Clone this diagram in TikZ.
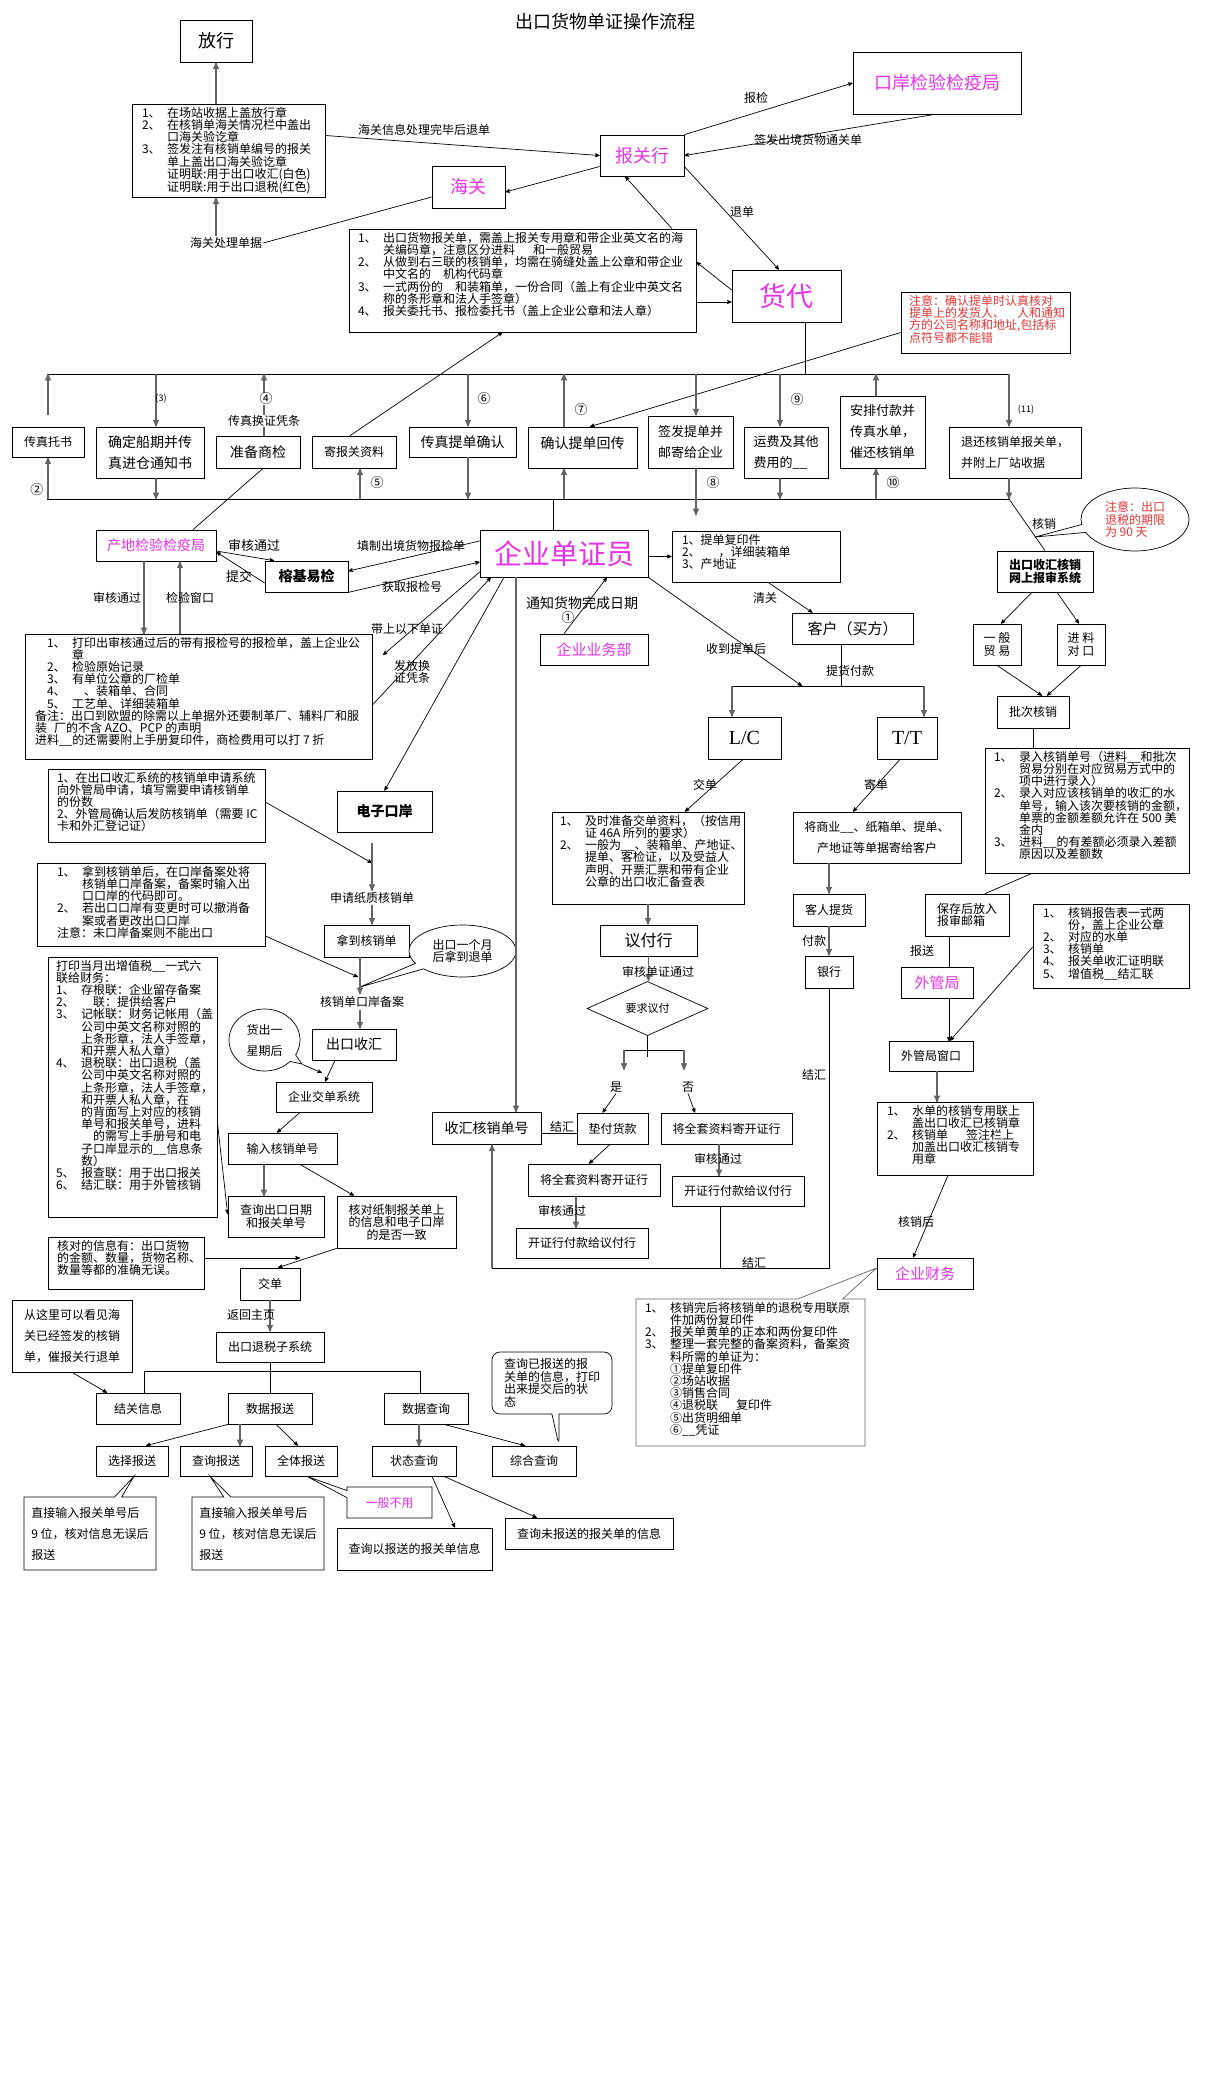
\documentclass[tikz,border=0pt]{standalone}
\usepackage{fontspec}
\setmainfont{Noto Sans CJK SC}
\newfontfamily\serifrm{Liberation Serif}
\usetikzlibrary{arrows, positioning, shapes.geometric, shapes.callouts}

\definecolor{rosa}{RGB}{232,50,232}
\definecolor{rotschrift}{RGB}{230,52,52}
\definecolor{grau}{RGB}{100,100,100}

\newcommand{\nr}[1]{\makebox[2.1em][l]{#1}}
\newcommand{\ein}{\hspace*{2.1em}}
\newcommand{\tbox}[4]{\parbox[c][#2][t]{#1}{\raggedright\leftskip=#3\relax\vspace*{3pt}#4}}

\begin{document}
\begin{tikzpicture}[x=1pt,y=-1pt,>=stealth',line width=0.7pt,
	kasten/.style={draw,inner sep=0pt,align=center,font=\fontsize{12}{12.5}\selectfont},
	liste/.style={draw,inner sep=0pt,font=\fontsize{12}{12.2}\selectfont},
	wh/.style 2 args={minimum width=#1pt,minimum height=#2pt},
	gross/.style={font=\fontsize{#1}{#1}\selectfont},
	zwei/.style={font=\fontsize{#1}{21}\selectfont},
	rosatext/.style={text=rosa},
	marke/.style={inner sep=1pt,align=center,font=\fontsize{12}{12.5}\selectfont},
	kreis/.style={inner sep=0pt,font=\fontsize{13}{13}\selectfont},
	gp/.style={draw=grau,line width=1.4pt},
	blase/.style={draw,fill=white,inner sep=0pt,align=left,font=\fontsize{12}{12.5}\selectfont}]

\fill[white] (0,0) rectangle (1209,2079);
\useasboundingbox (0,0) rectangle (1209,2079);

%Knoten oben
\node (titel) [gross=18] at (605,22) {出口货物单证操作流程};
\node (fangxing) [kasten,wh={72}{42},gross=18] at (216,41) {放行};
\node (hgbox) [liste] at (228.5,150.5) {\tbox{193pt}{93pt}{10pt}{%
\nr{1、}在场站收据上盖放行章\\
\nr{2、}在核销单海关情况栏中盖出\\
\ein 口海关验讫章\\
\nr{3、}签发注有核销单编号的报关\\
\ein 单上盖出口海关验讫章\\
\ein 证明联:用于出口收汇(白色)\\
\ein 证明联:用于出口退税(红色)}};
\node (hgchuli) [marke] at (226,243) {海关处理单据};
\node (haiguan) [kasten,wh={73}{42},gross=18,rosatext] at (468.5,187) {海关};
\node (bgh) [kasten,wh={84}{41},gross=18,rosatext] at (642,155.5) {报关行};
\node (kajj) [kasten,wh={168}{62},gross=18,rosatext] at (937,83) {口岸检验检疫局};
\node (bgd) [liste] at (522.5,280.5) {\tbox{347pt}{103pt}{9pt}{%
\nr{1、}出口货物报关单，需盖上报关专用章和带企业英文名的海\\
\ein 关编码章，注意区分进料\hspace{1.5em}和一般贸易\\
\nr{2、}从做到右三联的核销单，均需在骑缝处盖上公章和带企业\\
\ein 中文名的\hspace{1em}机构代码章\\
\nr{3、}一式两份的\hspace{1em}和装箱单，一份合同（盖上有企业中英文名\\
\ein 称的条形章和法人手签章）\\
\nr{4、}报关委托书、报检委托书（盖上企业公章和法人章）}};
\node (huodai) [kasten,wh={109}{52},gross=27,rosatext] at (786.5,296) {货代};
\node (zhuyi) [liste,text=rotschrift,font=\fontsize{12}{12}\selectfont] at (985.5,322.5) {\tbox{169pt}{61pt}{8pt}{%
注意：确认提单时认真核对\\
提单上的发货人、\hspace{1em}人和通知\\
方的公司名称和地址,包括标\\
点符号都不能错}};

\node (lthwb) [marke] at (424,130) {海关信息处理完毕后退单};
\node (lbj) [marke] at (756,98) {报检};
\node (lqf) [marke] at (808,140) {签发出境货物通关单};
\node (ltd) [marke] at (742,212) {退单};

%Kanten oben
\path[->]
	(hgbox.north -| fangxing) edge[gp] (fangxing.south)
	(hgchuli.north -| fangxing) edge[gp] (hgbox.south -| fangxing)
	(hgchuli.east) edge[-] ([yshift=-10pt]haiguan.west)
	([yshift=15pt]hgbox.east) edge (bgh.west)
	([yshift=-11pt]bgh.west) edge ([yshift=-5pt]haiguan.east)
	(bgh.north east) edge (kajj.west)
	([xshift=-2pt]kajj.south) edge (bgh.east)
	([yshift=-11pt]bgh.east) edge ([xshift=-7.5pt]huodai.north)
	([xshift=149.5pt]bgd.north) edge ([xshift=-17pt]bgh.south)
	([yshift=6pt]huodai.west) edge ([yshift=18.5pt]bgd.east)
	([yshift=-21.5pt]bgd.east) edge ([yshift=-6pt]huodai.west);

%Leiste
\coordinate (ob1) at (47,374);
\coordinate (ob2) at (1009,374);
\coordinate (ub1) at (47,499);
\coordinate (ub2) at (1009,499);

\node (tuoshu) [kasten,wh={72}{30}] at (48,442) {传真托书};
\node (chuanqi) [kasten,wh={108}{51},zwei=14] at (150,452.5) {确定船期并传\\真进仓通知书};
\node (shangjian) [kasten,wh={84}{32},gross=14] at (258,452) {准备商检};
\node (jibg) [kasten,wh={84}{32}] at (354,452) {寄报关资料};
\node (tdqr) [kasten,wh={107}{30},gross=14] at (462.5,442) {传真提单确认};
\node (tdht) [kasten,wh={109}{41},gross=14,text depth=10pt] at (582.5,447.5) {确认提单回传};
\node (qianfa) [kasten,wh={85}{52},zwei=13] at (690.5,442) {签发提单并\\邮寄给企业};
\node (yunfei) [kasten,wh={84}{51},zwei=13,align=left] at (786,452.5) {运费及其他\\费用的\_\_};
\node (anpai) [kasten,wh={85}{72},zwei=13,align=left] at (882.5,432) {安排付款并\\传真水单，\\催还核销单};
\node (tuihuan) [kasten,wh={132}{51},zwei=12,align=left] at (1015,452.5) {退还核销单报关单，\\并附上厂站收据};
\node (chandi) [kasten,wh={120}{31},gross=14,rosatext] at (156,545.5) {产地检验检疫局};

\draw (ob1) -- (ob2);
\draw (ub1) -- (ub2);
\draw ([xshift=18.5pt]huodai.south) -- ++(0,52);
\draw[gp,->] ([yshift=12pt]tuoshu.north) -- ++(0,-41);
\draw[gp,->] (tuoshu.south) ++(0,42) -- ++(0,-42);
\draw[gp,->] ([xshift=6pt]chuanqi.north) ++(0,-53) -- ++(0,53);
\draw[gp,->] ([xshift=6pt]chuanqi.south) -- ++(0,21);
\draw[gp,->] ([xshift=6pt]shangjian.north) -- ++(0,-62);
\draw ([xshift=5pt]shangjian.south) -- ([xshift=37pt]chandi.north);
\draw[gp,->] ([xshift=6pt]jibg.south) ++(0,31) -- ++(0,-31);
\draw[->] ([xshift=-4pt]jibg.north) -- ([xshift=-20pt]bgd.south);
\draw[gp,->] ([xshift=5.5pt]tdqr.north) ++(0,-53) -- ++(0,53);
\draw[gp,->] ([xshift=5.5pt]tdqr.south) -- ++(0,42);
\draw[gp,->] ([xshift=-18.5pt]tdht.north) -- ++(0,-53);
\draw[gp,->] ([xshift=-18.5pt]tdht.south) ++(0,31) -- ++(0,-31);
\draw[->] ([yshift=-10pt]zhuyi.west) -- ([xshift=7.5pt]tdht.north);
\draw[gp,->] ([xshift=5.5pt]qianfa.north) ++(0,-42) -- ++(0,42);
\draw[gp,->] ([xshift=5.5pt]qianfa.south) -- ++(0,47);
\draw[gp,->] ([xshift=-6pt]yunfei.north) ++(0,-53) -- ++(0,53);
\draw[gp,->] ([xshift=-6pt]yunfei.south) -- ++(0,21);
\draw[gp,->] ([xshift=-6.5pt]anpai.north) -- ++(0,-22);
\draw[gp,->] ([xshift=-6.5pt]anpai.south) ++(0,31) -- ++(0,-31);
\draw[gp,->] ([xshift=-6pt]tuihuan.north) ++(0,-53) -- ++(0,53);
\draw[gp,->] ([xshift=-6pt]tuihuan.south) -- ++(0,21);

\node (n2) [kreis] at (37,490) {②};
\node (n3) [kreis,font=\fontsize{9}{9}\selectfont] at (161,399) {(3)};
\node (n4) [kreis,fill=white] at (266,399) {④};
\node (hzpt) [marke,fill=white,inner sep=0pt] at (264,421) {传真换证凭条};
\node (n5) [kreis] at (377,483) {⑤};
\node (n6) [kreis] at (484,399) {⑥};
\node (n7) [kreis] at (581,410) {⑦};
\node (n8) [kreis] at (713,483) {⑧};
\node (n9) [kreis] at (797,400) {⑨};
\node (n10) [kreis] at (893,483) {⑩};
\node (n11) [kreis,font=\fontsize{9}{9}\selectfont] at (1026,410) {(11)};

%Mitte
\node (qydzy) [kasten,wh={168}{47},gross=28,rosatext] at (564,553.5) {企业单证员};
\node (tdfy) [liste] at (756,556.5) {\tbox{168pt}{51pt}{10pt}{%
1、提单复印件\\
2、\hspace{1.5em}，详细装箱单\\
3、产地证}};
\node (kehu) [kasten,wh={121}{31},gross=15] at (852.5,628.5) {客户（买方）};
\node (ywb) [kasten,wh={108}{31},gross=15,rosatext] at (594,649.5) {企业业务部};
\node (lc) [kasten,wh={73}{42},font=\serifrm\fontsize{20}{20}\selectfont] at (744.5,738) {L/C};
\node (tt) [kasten,wh={60}{42},font=\serifrm\fontsize{20}{20}\selectfont] at (907,738) {T/T};
\coordinate (lt1) at (732,686);
\coordinate (lt2) at (924,686);
\coordinate (lt3) at (802,686);

\draw ([xshift=-11pt]qydzy.north) -- ++(0,-31);
\draw[->] (qydzy.east |- tdfy.west) -- (tdfy.west);
\draw[->] ([xshift=12pt]tdfy.south) -- ([xshift=-40pt]kehu.north);
\draw[->] ([xshift=-30pt]ywb.north) -- ([xshift=43pt]qydzy.south);
\draw[->] (qydzy.south east) -- (lt3);
\draw ([xshift=-11.5pt]kehu.south) -- ++(0,42);
\draw (lt1) -- (lt2);
\draw[gp,->] (lt1) -- (lt1 |- lc.north);
\draw[gp,->] (lt2) -- (lt2 |- tt.north);

\node (lqg) [marke] at (765,598) {清关};
\node (ltzhw) [marke,gross=14] at (582,603) {通知货物完成日期};
\node (n1) [kreis] at (568,618) {①};
\node (lsdtd) [marke] at (736,649) {收到提单后};
\node (lthfk) [marke] at (850,671) {提货付款};

%Links Mitte
\node (rongji) [kasten,wh={83}{31},font=\bfseries\fontsize{14}{14}\selectfont] at (306.5,576.5) {榕基易检};
\node (bigbox) [liste] at (198.5,696.5) {\tbox{347pt}{125pt}{10pt}{%
\hspace*{1em}\nr{1、}打印出审核通过后的带有报检号的报检单，盖上企业公\\
\hspace*{1em}\ein 章\\
\hspace*{1em}\nr{2、}检验原始记录\\
\hspace*{1em}\nr{3、}有单位公章的厂检单\\
\hspace*{1em}\nr{4、}\hspace{1em}、装箱单、合同\\
\hspace*{1em}\nr{5、}工艺单、详细装箱单\\
备注：出口到欧盟的除需以上单据外还要制革厂、辅料厂和服\\
装\hspace{0.6em}厂的不含 AZO、PCP 的声明\\
进料\_\_的还需要附上手册复印件，商检费用可以打 7 折}};

\draw[->] ([yshift=-5.5pt]chandi.east) -- ([xshift=-32.5pt]rongji.north);
\draw[->] ([yshift=-6.5pt]rongji.west) -- ([yshift=-6.5pt]chandi.east);
\draw[->] ([yshift=12.5pt]qydzy.west) -- ([yshift=5.5pt]rongji.east);
\draw[->] (rongji.south east) -- ([yshift=-8.5pt]qydzy.west);
\draw[gp,->] ([xshift=-12pt]chandi.south) -- ++(0,73);
\draw[gp,->] ([xshift=24pt]chandi.south) ++(0,73) -- ++(0,-73);

\node (lsh1) [marke,gross=13] at (254,546) {审核通过};
\node (ltj) [marke,gross=13] at (239,577) {提交};
\node (ltz) [marke] at (411,546) {填制出境货物报检单};
\node (lhq) [marke] at (412,587) {获取报检号};
\node (lsh2) [marke] at (117,598) {审核通过};
\node (ljy) [marke] at (190,598) {检验窗口};
\node (ldsy) [marke] at (407,629) {带上以下单证};
\node (lff) [marke,font=\fontsize{12}{12}\selectfont] at (412,672) {发放换\\证凭条};

%Links unten
\node (dzka) [kasten,wh={95}{41},font=\bfseries\fontsize{14}{14}\selectfont] at (384.5,811.5) {电子口岸};
\coordinate (dz1) at (383,655);
\draw[->] ([yshift=-18.5pt]qydzy.west) -- (dz1);
\draw[->] ([yshift=-8.5pt]bigbox.east) -- ([xshift=-73pt]qydzy.south);
\draw[->] ([xshift=-60pt]qydzy.south) -- (dzka.north);

\node (sqbox) [liste] at (156.5,805.5) {\tbox{217pt}{73pt}{9pt}{%
1、在出口收汇系统的核销单申请系统\\
向外管局申请，填写需要申请核销单\\
的份数\\
2、外管局确认后发防核销单（需要 IC\\
卡和外汇登记证）}};
\node (sqzz) [marke] at (372,898) {申请纸质核销单};
\node (ndhx) [kasten,wh={85}{32}] at (366.5,941) {拿到核销单};
\node (box2) [liste] at (151,904.5) {\tbox{228pt}{83pt}{20pt}{%
\nr{1、}拿到核销单后，在口岸备案处将\\
\ein 核销单口岸备案，备案时输入出\\
\ein 口口岸的代码即可。\\
\nr{2、}若出口口岸有变更时可以撤消备\\
\ein 案或者更改出口口岸\\
注意：未口岸备案则不能出口}};
\node (hxba) [marke] at (362,1002) {核销单口岸备案};
\node (chsh) [kasten,wh={84}{31},gross=14] at (354,1044.5) {出口收汇};
\node (jdxt) [kasten,wh={96}{30}] at (324,1097) {企业交单系统};
\node (srhx) [kasten,wh={109}{31}] at (282.5,1148.5) {输入核销单号};
\node (box3) [liste] at (132.5,1087) {\tbox{169pt}{260pt}{8pt}{%
打印当月出增值税\_\_一式六\\
联给财务：\\
\nr{1、}存根联：企业留存备案\\
\nr{2、}\hspace{1em}联：提供给客户\\
\nr{3、}记帐联：财务记帐用（盖\\
\ein 公司中英文名称对照的\\
\ein 上条形章，法人手签章，\\
\ein 和开票人私人章）\\
\nr{4、}退税联：出口退税（盖\\
\ein 公司中英文名称对照的\\
\ein 上条形章，法人手签章，\\
\ein 和开票人私人章，在\\
\ein 的背面写上对应的核销\\
\ein 单号和报关单号，进料\\
\ein\hspace*{1em}的需写上手册号和电\\
\ein 子口岸显示的\_\_信息条\\
\ein 数）\\
\nr{5、}报查联：用于出口报关\\
\nr{6、}结汇联：用于外管核销}};
\node (cxrq) [kasten,wh={96}{41}] at (276,1216.5) {查询出口日期\\和报关单号};
\node (hdzz) [kasten,wh={119}{52}] at (396.5,1222) {核对纸制报关单上\\的信息和电子口岸\\的是否一致};
\node (box4) [liste] at (126,1263) {\tbox{156pt}{52pt}{9pt}{%
核对的信息有：出口货物\\
的金额、数量，货物名称、\\
数量等都的准确无误。}};
\node (jiaodan) [kasten,wh={60}{32}] at (270,1284) {交单};
\node (tszxt) [kasten,wh={108}{30}] at (270,1347) {出口退税子系统};
\node (box5) [kasten,wh={120}{72},zwei=12,align=left] at (72,1336) {从这里可以看见海\\关已经签发的核销\\单，催报关行退单};

\node (chukou) [blase,ellipse callout,wh={107}{52},align=center,callout absolute pointer={(360,987)}] at (462.5,951) {出口一个月\\后拿到退单};
\node (hcyx) [blase,ellipse callout,wh={71}{62},zwei=12,align=center,callout absolute pointer={(302,1064)}] at (264.5,1040) {货出一\\星期后};

\coordinate (k1) at (372,863);
\coordinate (k2) at (358,977);
\coordinate (k3) at (322,1073);
\coordinate (k4) at (300,1258);
\draw[->] ([yshift=3.5pt]sqbox.east) -- (k1);
\draw[gp,->] (dzka.south -| sqzz) ++(0,11) -- (sqzz.north);
\draw[gp,->] (sqzz.south) -- (sqzz.south |- ndhx.north);
\draw[->] ([yshift=-31.5pt]box2.east) -- (k2);
\draw[gp,->] ([xshift=-6.5pt]ndhx.south) -- ++(0,37);
\draw[gp,->] ([xshift=6pt]chsh.north) ++(0,-19) -- ++(0,19);
\draw[->] (hcyx.pointer) -- (k3);
\draw[->] ([xshift=-19pt]chsh.south) -- ([xshift=1pt]jdxt.north);
\draw[->] ([xshift=-24pt]jdxt.south) -- ([xshift=-5.5pt]srhx.north);
\draw[->] ([yshift=-35pt]box3.east) -- ([yshift=2.5pt]cxrq.west);
\draw[gp,->] ([xshift=-18.5pt]srhx.south) -- ++(0,32);
\draw[->] ([xshift=17.5pt]srhx.south) -- ([xshift=-42.5pt]hdzz.north);
\draw[->] (hdzz.south west) -- ([xshift=8pt]jiaodan.north);
\draw[->] ([yshift=5pt]box4.east) -- (k4);
\draw[gp,->] (jiaodan.south) -- (tszxt.north);
\node (lfhzy) [marke] at (251,1315) {返回主页};

%Baum unten
\node (jgxx) [kasten,wh={84}{31}] at (138,1408.5) {结关信息};
\node (sjbs) [kasten,wh={84}{31}] at (270,1408.5) {数据报送};
\node (sjcx) [kasten,wh={84}{31}] at (426,1408.5) {数据查询};
\node (xzbs) [kasten,wh={72}{30}] at (132,1461) {选择报送};
\node (cxbs) [kasten,wh={72}{30}] at (216,1461) {查询报送};
\node (qtbs) [kasten,wh={72}{30}] at (301,1461) {全体报送};
\node (ztcx) [kasten,wh={84}{30}] at (414,1461) {状态查询};
\node (zhcx) [kasten,wh={84}{30}] at (534,1461) {综合查询};
\node (cxyb2) [kasten,wh={155}{42}] at (414.5,1549) {查询以报送的报关单信息};
\node (cxwb) [kasten,wh={168}{31}] at (589,1533.5) {查询未报送的报关单的信息};

\draw[->] (box5.south) -- ([xshift=-31pt]jgxx.north);
\draw (tszxt.south) -- (sjbs.north);
\draw ([xshift=6pt]jgxx.north) -- ++(0,-21) -| ([xshift=-6pt]sjcx.north);
\draw[->] ([xshift=-42pt]sjbs.south) -- ([xshift=14pt]xzbs.north);
\draw[gp,->] ([xshift=-30pt]sjbs.south) -- ++(0,22);
\draw[->] ([xshift=6pt]sjbs.south) -- ([xshift=-3pt]qtbs.north);
\draw[gp,->] ([xshift=-7pt]sjcx.south) -- ++(0,22);
\draw[->] ([xshift=18pt]sjcx.south) -- ([xshift=-9pt]zhcx.north);
\draw[->] ([xshift=18pt]ztcx.south) -- ([xshift=40.5pt]cxyb2.north);
\draw[->] ([xshift=30pt]ztcx.south) -- ([xshift=-52pt]cxwb.north);

\node (cxyb) [blase,rectangle callout,rounded corners=8pt,wh={120}{62},callout absolute pointer={([xshift=25pt]zhcx.north)}] at (552,1383) {查询已报送的报\\关单的信息，打印\\出来提交后的状\\态};
\node (zj1) [blase,rectangle callout,wh={132}{73},zwei=12,callout absolute pointer={([xshift=2pt]xzbs.south)}] at (90,1533.5) {直接输入报关单号后\\9 位，核对信息无误后\\报送};
\node (zj2) [blase,rectangle callout,wh={132}{73},zwei=12,callout absolute pointer={([xshift=-6pt]cxbs.south)}] at (258,1533.5) {直接输入报关单号后\\9 位，核对信息无误后\\报送};
\node (ybby) [blase,rectangle callout,wh={85}{31},text=rosa,align=center,callout absolute pointer={([xshift=6pt]qtbs.south)}] at (389.5,1502.5) {一般不用};

%L/C Zweig
\node (lcbox) [liste] at (648,858) {\tbox{192pt}{92pt}{8pt}{%
\nr{1、}及时准备交单资料，（按信用\\
\ein 证 46A 所列的要求）\\
\nr{2、}一般为\_\_、装箱单、产地证、\\
\ein 提单、客检证，以及受益人\\
\ein 声明、开票汇票和带有企业\\
\ein 公章的出口收汇备查表}};
\node (yfh) [kasten,wh={97}{31},gross=16] at (648.5,940.5) {议付行};
\node (yq) [draw,diamond,inner sep=0pt,wh={121}{41},font=\fontsize{11}{11}\selectfont] at (647.5,1008.5) {要求议付};
\node (shi) [marke] at (616,1087) {是};
\node (fou) [marke] at (688,1087) {否};
\node (dfhk) [kasten,wh={71}{31}] at (612.5,1128.5) {垫付货款};
\node (jqtr1) [kasten,wh={131}{31}] at (726.5,1128.5) {将全套资料寄开证行};
\node (hxdh) [kasten,wh={109}{32},gross=14] at (486.5,1128) {收汇核销单号};
\node (jqtr2) [kasten,wh={132}{32}] at (594,1180) {将全套资料寄开证行};
\node (kzh2) [kasten,wh={132}{30}] at (582,1243) {开证行付款给议付行};
\node (kzh1) [kasten,wh={132}{30}] at (738,1191) {开证行付款给议付行};
\coordinate (ga) at (624,1050);
\coordinate (gb) at (684,1050);
\coordinate (k5) at (492,1268);

\draw[->] ([xshift=-1.5pt]lc.south) -- ([xshift=37pt]lcbox.north);
\draw[gp,->] (lcbox.south) -- (lcbox.south |- yfh.north);
\draw[gp,->] (yfh.south) -- (yfh.south |- yq.north);
\draw (yq.south) -- ++(0,21);
\draw (ga) -- (gb);
\draw[gp,->] (ga) -- ++(0,20);
\draw[gp,->] (gb) -- ++(0,20);
\draw[->] (shi.south) -- ([xshift=-10pt]dfhk.north);
\draw[->] (fou.south) -- ([xshift=-31.5pt]jqtr1.north);
\draw[gp,->] ([xshift=-48pt]qydzy.south) -- ++(0,535);
\draw ([yshift=-5pt]hxdh.east) -- ([yshift=-4.5pt]dfhk.west);
\draw[->] ([xshift=-2.5pt]dfhk.south) -- ([xshift=-5pt]jqtr2.north);
\draw[gp,->] ([xshift=-18pt]jqtr2.south) -- ++(0,32);
\draw[gp,->] ([xshift=-7.5pt]jqtr1.south) -- ++(0,32);
\draw ([xshift=-18pt]kzh1.south) -- ++(0,62);

\node (ljd) [marke] at (705,785) {交单};
\node (lshdz) [marke] at (658,972) {审核单证通过};
\node (ljh2) [marke] at (562,1127) {结汇};
\node (lsh3) [marke] at (562,1211) {审核通过};
\node (lsh4) [marke] at (718,1159) {审核通过};
\node (ljh3) [marke] at (754,1263) {结汇};

%T/T Zweig
\node (jsy) [kasten,wh={168}{51},zwei=12] at (877,837.5) {将商业\_\_、纸箱单、提单、\\产地证等单据寄给客户};
\node (krth) [kasten,wh={72}{32}] at (829,910) {客人提货};
\node (yh) [kasten,wh={48}{32}] at (829,972) {银行};
\draw[->] ([xshift=-7pt]tt.south) -- ([xshift=-24pt]jsy.north);
\draw[gp,->] (jsy.south -| krth) -- (krth.north);
\draw[gp,->] (krth.south) -- (yh.north);
\draw (yh.south) |- (k5);
\draw[gp,->] (k5) -- ([xshift=5.5pt]hxdh.south);
\node (ljdan) [marke] at (876,785) {寄单};
\node (lfk) [marke] at (814,941) {付款};
\node (ljh1) [marke] at (814,1075) {结汇};

%Rechts
\node (wsb) [kasten,wh={96}{41},font=\bfseries\fontsize{12}{12.5}\selectfont] at (1045,571.5) {出口收汇核销\\网上报审系统};
\node (zhuyi2) [blase,ellipse callout,wh={108}{63},text=rotschrift,callout absolute pointer={(1035,537)}] at (1135,519.5) {注意：出口\\退税的期限\\为 90 天};
\node (ybmy) [kasten,wh={48}{41}] at (997,644.5) {一 般\\贸 易};
\node (jldk) [kasten,wh={48}{41}] at (1081,644.5) {进 料\\对 口};
\node (pchx) [kasten,wh={72}{32}] at (1033,712) {批次核销};
\node (lrbox) [liste] at (1087,810.5) {\tbox{204pt}{125pt}{9pt}{%
\nr{1、}录入核销单号（进料\_\_和批次\\
\ein 贸易分别在对应贸易方式中的\\
\ein 项中进行录入）\\
\nr{2、}录入对应该核销单的收汇的水\\
\ein 单号，输入该次要核销的金额，\\
\ein 单票的金额差额允许在 500 美\\
\ein 金内\\
\nr{3、}进料\_\_的有差额必须录入差额\\
\ein 原因以及差额数}};
\node (bcfr) [kasten,wh={84}{42},align=left] at (967,915) {保存后放入\\报审邮箱};
\node (wgj) [kasten,wh={72}{31},gross=15,rosatext] at (937,982.5) {外管局};
\node (hxbg) [liste] at (1111,946) {\tbox{156pt}{84pt}{10pt}{%
\nr{1、}核销报告表一式两\\
\ein 份，盖上企业公章\\
\nr{2、}对应的水单\\
\nr{3、}核销单\\
\nr{4、}报关单收汇证明联\\
\nr{5、}增值税\_\_结汇联}};
\node (wgck) [kasten,wh={84}{30}] at (931,1056) {外管局窗口};
\node (sdbox) [liste] at (955,1138.5) {\tbox{156pt}{73pt}{10pt}{%
\nr{1、}水单的核销专用联上\\
\ein 盖出口收汇已核销章\\
\nr{2、}核销单\hspace{1.5em}签注栏上\\
\ein 加盖出口收汇核销专\\
\ein 用章}};
\node (qycw) [kasten,wh={96}{31},gross=15,rosatext] at (925,1273.5) {企业财务};
\node (cwbox) [liste,draw=grau,fill=white,rectangle callout,callout pointer width=45pt,callout absolute pointer={([yshift=5.5pt]qycw.west)}] at (750.5,1372.5) {\tbox{229pt}{147pt}{9pt}{%
\nr{1、}核销完后将核销单的退税专用联原\\
\ein 件加两份复印件\\
\nr{2、}报关单黄单的正本和两份复印件\\
\nr{3、}整理一套完整的备案资料，备案资\\
\ein 料所需的单证为：\\
\ein ①提单复印件\\
\ein ②场站收据\\
\ein ③销售合同\\
\ein ④退税联\hspace{1.5em}复印件\\
\ein ⑤出货明细单\\
\ein ⑥\_\_凭证}};

\draw (ub2) -- (wsb.north);
\draw[->] ([xshift=-13pt]wsb.south) -- ([xshift=4pt]ybmy.north);
\draw[->] ([xshift=12pt]wsb.south) -- ([xshift=-2pt]jldk.north);
\draw[->] (ybmy.south) -- ([xshift=9pt]pchx.north);
\draw[->] (jldk.south) -- ([xshift=14pt]pchx.north);
\draw (pchx.south) -- (pchx.south |- lrbox.north);
\draw ([xshift=-55pt]lrbox.south) -- ([xshift=18pt]bcfr.north);
\draw ([xshift=-18pt]bcfr.south) -- ++(0,31);
\draw[->] ([xshift=12pt]wgj.south) -- ++(0,43);
\draw[->] ([yshift=-1pt]hxbg.west) -- ([xshift=19pt]wgck.north);
\draw[gp,->] ([xshift=6pt]wgck.south) -- ++(0,31);
\draw[->] ([xshift=-7pt]sdbox.south) -- ([xshift=-12pt]qycw.north);

\node (lhx) [marke] at (1044,524) {核销};
\node (lbs) [marke] at (922,951) {报送};
\node (lhxh) [marke] at (916,1222) {核销后};

\end{tikzpicture}
\end{document}
